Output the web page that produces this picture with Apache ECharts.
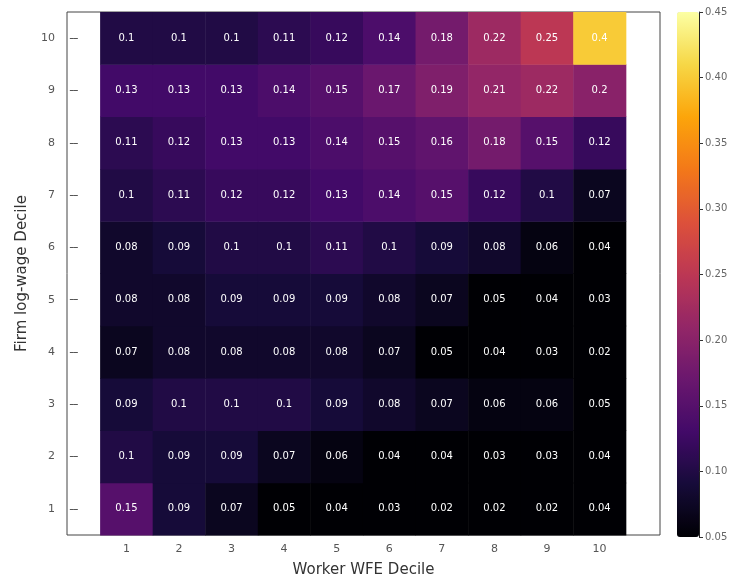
<!DOCTYPE html>
<html>
<head>
<meta charset="utf-8">
<script src="https://cdn.jsdelivr.net/npm/echarts@6/dist/echarts.min.js"></script>
<style>
  html, body { margin: 0; padding: 0; background: #fff; }
  #chart { width: 740px; height: 583px; }
</style>
</head>
<body>
<div id="chart"></div>
<script>
// deciles on both axes
var workerDeciles = [1, 2, 3, 4, 5, 6, 7, 8, 9, 10];
var firmDeciles = [1, 2, 3, 4, 5, 6, 7, 8, 9, 10];

// one row per firm decile (1 at the bottom), columns = worker decile 1..10
var row1 = [0.15, 0.09, 0.07, 0.05, 0.04, 0.03, 0.02, 0.02, 0.02, 0.04];
var row2 = [0.1, 0.09, 0.09, 0.07, 0.06, 0.04, 0.04, 0.03, 0.03, 0.04];
var row3 = [0.09, 0.1, 0.1, 0.1, 0.09, 0.08, 0.07, 0.06, 0.06, 0.05];
var row4 = [0.07, 0.08, 0.08, 0.08, 0.08, 0.07, 0.05, 0.04, 0.03, 0.02];
var row5 = [0.08, 0.08, 0.09, 0.09, 0.09, 0.08, 0.07, 0.05, 0.04, 0.03];
var row6 = [0.08, 0.09, 0.1, 0.1, 0.11, 0.1, 0.09, 0.08, 0.06, 0.04];
var row7 = [0.1, 0.11, 0.12, 0.12, 0.13, 0.14, 0.15, 0.12, 0.1, 0.07];
var row8 = [0.11, 0.12, 0.13, 0.13, 0.14, 0.15, 0.16, 0.18, 0.15, 0.12];
var row9 = [0.13, 0.13, 0.13, 0.14, 0.15, 0.17, 0.19, 0.21, 0.22, 0.2];
var row10 = [0.1, 0.1, 0.1, 0.11, 0.12, 0.14, 0.18, 0.22, 0.25, 0.4];
var rows = [row1, row2, row3, row4, row5, row6, row7, row8, row9, row10];

// colorbar ticks
var cbarTicks = [0.05, 0.10, 0.15, 0.20, 0.25, 0.30, 0.35, 0.40, 0.45];

// inferno
var inferno = ['#000004', '#160b39', '#420a68', '#6a176e', '#932667', '#bc3754',
  '#dd513a', '#f37819', '#fca50a', '#f6d746', '#fcffa4'];

var data = [];
for (var r = 0; r < rows.length; r++) {
  for (var c = 0; c < workerDeciles.length; c++) {
    data.push([workerDeciles[c], firmDeciles[r], rows[r][c]]);
  }
}

var chart = echarts.init(document.getElementById('chart'));
var tickColor = '#555';
var labelFont = { color: '#555', fontSize: 11, fontFamily: 'DejaVu Sans' };

var option = {
  backgroundColor: '#fff',
  animation: false,
  grid: [
    { left: 67, top: 12, width: 593, height: 525, show: true, borderColor: '#444', borderWidth: 1 },
    { left: 677, top: 12, width: 22, height: 525 }
  ],
  xAxis: [
    {
      type: 'value', gridIndex: 0, min: -0.13, max: 11.15,
      name: 'Worker WFE Decile', nameLocation: 'middle', nameGap: 28,
      nameTextStyle: { color: '#333', fontSize: 15, fontFamily: 'DejaVu Sans' },
      axisLine: { show: false },
      axisTick: { show: true, inside: true, length: 4, customValues: workerDeciles, lineStyle: { color: tickColor } },
      axisLabel: Object.assign({ customValues: workerDeciles, margin: 9 }, labelFont),
      splitLine: { show: false }
    },
    {
      type: 'value', gridIndex: 0, position: 'top', min: -0.13, max: 11.15,
      axisLine: { show: false },
      axisTick: { show: true, inside: true, length: 4, customValues: workerDeciles, lineStyle: { color: tickColor } },
      axisLabel: { show: false },
      splitLine: { show: false }
    },
    { type: 'value', gridIndex: 1, show: false, min: 0, max: 1 }
  ],
  yAxis: [
    {
      type: 'value', gridIndex: 0, min: 0.5, max: 10.5,
      name: 'Firm log-wage Decile', nameLocation: 'middle', nameGap: 31,
      nameTextStyle: { color: '#333', fontSize: 15, fontFamily: 'DejaVu Sans' },
      axisLine: { show: false },
      axisTick: { show: true, inside: true, length: 4, customValues: firmDeciles, lineStyle: { color: tickColor } },
      axisLabel: Object.assign({ customValues: firmDeciles, margin: 12 }, labelFont),
      splitLine: { show: false }
    },
    {
      type: 'value', gridIndex: 0, position: 'right', min: 0.5, max: 10.5,
      axisLine: { show: false },
      axisTick: { show: true, inside: true, length: 4, customValues: firmDeciles, lineStyle: { color: tickColor } },
      axisLabel: { show: false },
      splitLine: { show: false }
    },
    {
      type: 'value', gridIndex: 1, position: 'right', min: 0.05, max: 0.45, interval: 0.05, z: 10,
      axisLine: { show: true, onZero: false, lineStyle: { color: '#222', width: 1 } },
      axisTick: { show: true, length: 4, lineStyle: { color: '#333' } },
      axisLabel: Object.assign({ margin: 6, customValues: cbarTicks, formatter: function (v) { return v.toFixed(2); } }, labelFont, { fontSize: 10, color: '#666' }),
      splitLine: { show: false }
    }
  ],
  visualMap: {
    type: 'continuous',
    min: 0.05, max: 0.45,
    dimension: 2,
    seriesIndex: 0,
    calculable: false,
    showLabel: false,
    itemWidth: 22, itemHeight: 525,
    left: 677, top: 12, padding: 0,
    inRange: { color: inferno }
  },
  series: [{
    type: 'custom',
    xAxisIndex: 0, yAxisIndex: 0,
    data: data,
    renderItem: function (params, api) {
      var x = api.value(0), y = api.value(1), v = api.value(2);
      var p0 = api.coord([x - 0.5, y + 0.5]);
      var p1 = api.coord([x + 0.5, y - 0.5]);
      var center = api.coord([x, y]);
      return {
        type: 'group',
        children: [
          {
            type: 'rect',
            shape: { x: p0[0], y: p0[1], width: p1[0] - p0[0] + 0.5, height: p1[1] - p0[1] + 0.5 },
            style: { fill: api.visual('color') }
          },
          {
            type: 'text',
            x: center[0], y: center[1],
            style: {
              text: String(v), fill: '#fff', fontSize: 10, fontFamily: 'DejaVu Sans',
              align: 'center', verticalAlign: 'middle'
            }
          }
        ]
      };
    }
  }]
};

chart.setOption(option);
</script>
</body>
</html>
